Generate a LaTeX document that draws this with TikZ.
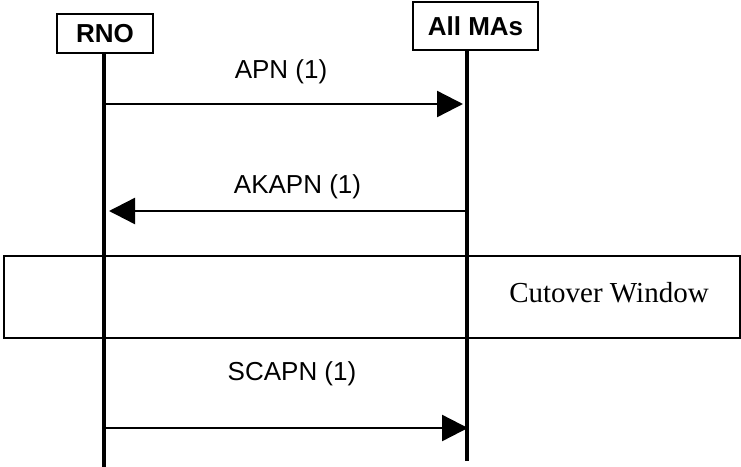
\documentclass[tikz,border=0pt]{standalone}
\usepackage{fontspec}
\setmainfont{Liberation Serif}
\setsansfont{Liberation Sans}
\usetikzlibrary{arrows.meta, positioning}
\tikzset{
>={Triangle[length=13pt,width=13pt]}, % filled arrow heads
actor/.style={draw, line width=1pt, inner sep=0pt, font=\sffamily\bfseries\fontsize{13}{15}\selectfont}, % boxes on top
lifeline/.style={line width=2pt}, % thick vertical lines
msg/.style={->, line width=1.2pt}, % the messages
msgtext/.style={anchor=base, inner sep=0pt, font=\sffamily\fontsize{13}{15}\selectfont},
window/.style={draw, line width=1.2pt, minimum width=368pt, minimum height=41pt, inner sep=0pt},
wintext/.style={anchor=base, inner sep=0pt, font=\fontsize{14.5}{17}\selectfont},
}

\begin{document}
\begin{tikzpicture}[x=0.5pt, y=-0.5pt]% one unit is one pixel
  \useasboundingbox (0,0) rectangle (741,467);

  % cutover window, under the lifelines
  \node[window] (cw) at (372,297) {};
  \node[wintext] (cwtext) at (609,302) {Cutover Window};

  \node[actor, minimum width=48pt, minimum height=19.5pt] (rno) at (105,33.5) {RNO};
  \node[actor, minimum width=62.5pt, minimum height=24pt] (mas) at (475.5,26) {All MAs};

  \coordinate (rno top) at (104,53);
  \coordinate (rno bot) at (104,467);
  \coordinate (mas top) at (467,50);
  \coordinate (mas bot) at (467,461);
  \draw[lifeline] (rno top) -- (rno bot);
  \draw[lifeline] (mas top) -- (mas bot);

  % message ends
  \coordinate (apn from) at (104,104);
  \coordinate (apn to) at (463,104);
  \coordinate (akapn from) at (467,211);
  \coordinate (akapn to) at (109,211);
  \coordinate (scapn from) at (104,428);
  \coordinate (scapn to) at (468,428);

  \node[msgtext] (apn) at (281,78) {APN (1)};
  \node[msgtext] (akapn) at (297.5,193) {AKAPN (1)};
  \node[msgtext] (scapn) at (292,380) {SCAPN (1)};

  \draw[msg] (apn from) -- (apn to);
  \draw[msg] (akapn from) -- (akapn to);
  \draw[msg] (scapn from) -- (scapn to);
\end{tikzpicture}
\end{document}
